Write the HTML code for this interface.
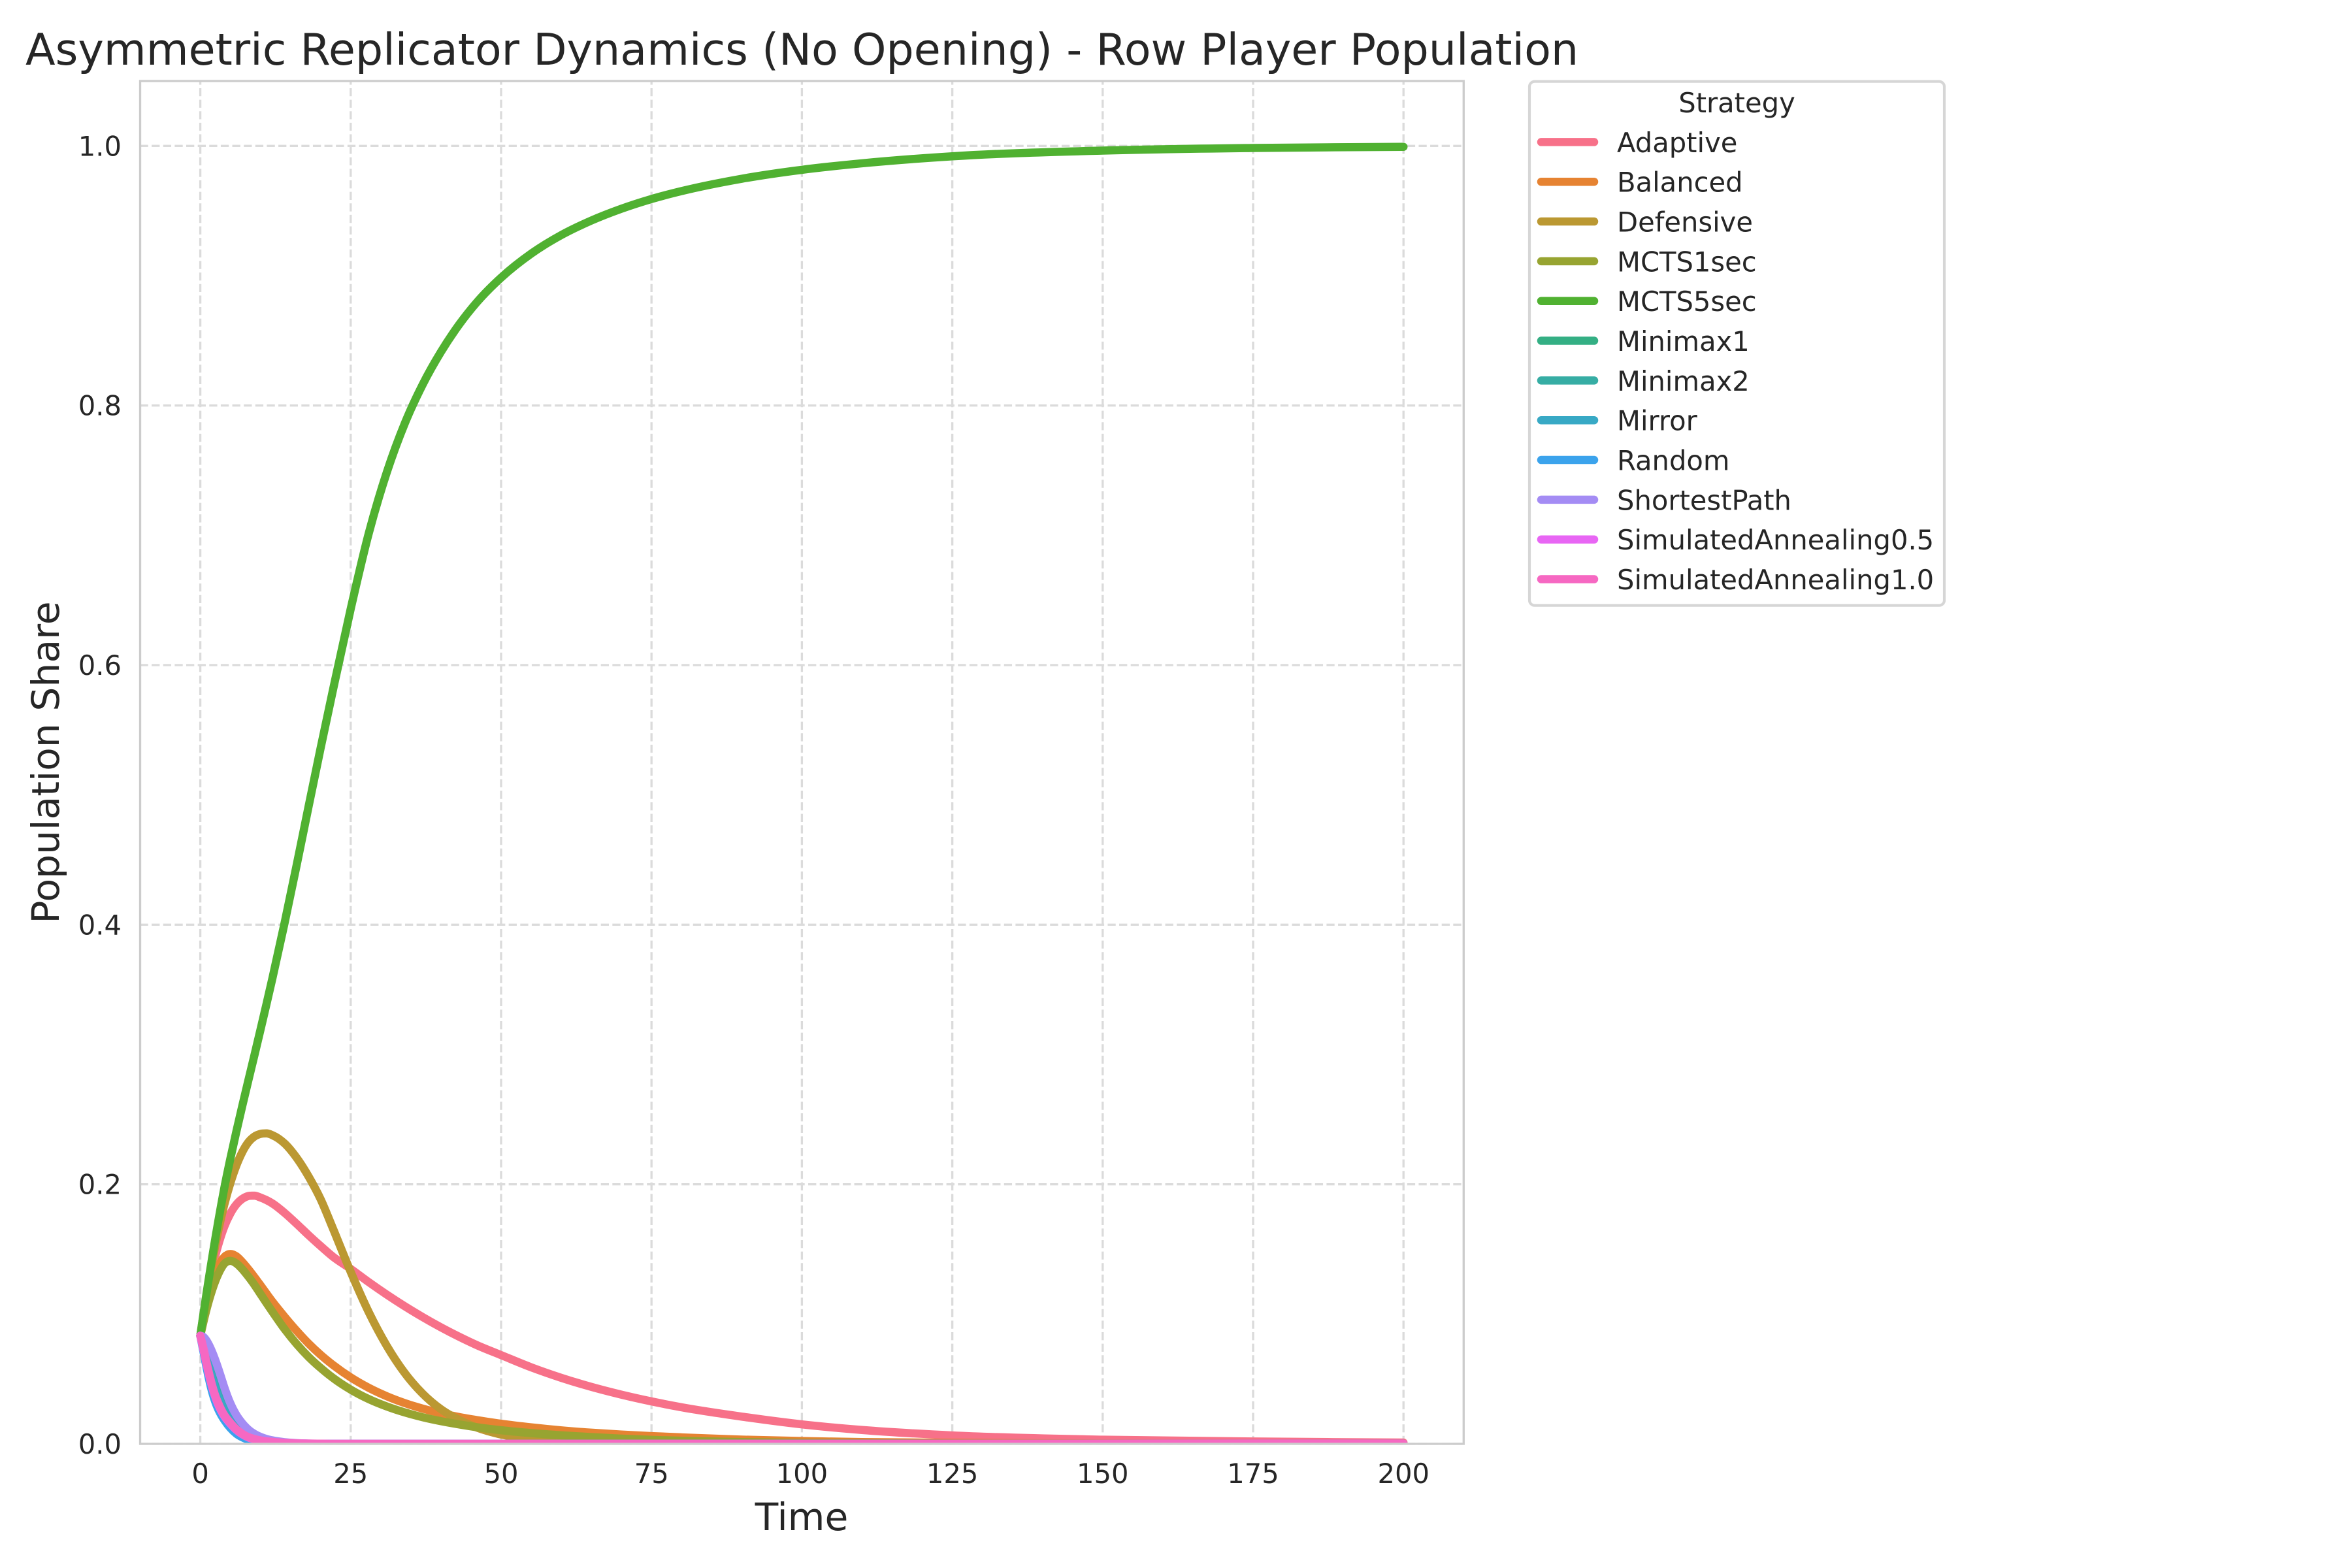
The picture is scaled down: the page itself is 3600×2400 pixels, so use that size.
<!DOCTYPE html>
<html lang="en">
<head>
<meta charset="utf-8">
<title>Asymmetric Replicator Dynamics (No Opening) - Row Player Population</title>
<style>
html,body{margin:0;padding:0;background:#fff;}
body{width:3600px;height:2400px;overflow:hidden;}
svg{display:block;font-family:"DejaVu Sans","Liberation Sans",sans-serif;}
text{fill:#262626;}
</style>
</head>
<body>
<svg id="chart" xmlns="http://www.w3.org/2000/svg" width="3600" height="2400" viewBox="0 0 3600 2400">
  <rect x="0" y="0" width="3600" height="2400" fill="#ffffff"/>
  <defs>
    <clipPath id="axes-clip"><rect x="214.5" y="124" width="2025.8" height="2086"/></clipPath>
  </defs>
  <text x="39" y="99" font-size="66.67">Asymmetric Replicator Dynamics (No Opening) - Row Player Population</text>
  <g id="grid"></g>
  <g id="series" clip-path="url(#axes-clip)"></g>
  <rect x="214.5" y="124" width="2025.8" height="2086" fill="none" stroke="#cccccc" stroke-width="3.33"/>
  <g id="ticks"></g>
  <text x="1227" y="2342" font-size="58.33" text-anchor="middle">Time</text>
  <text transform="translate(90 1167) rotate(-90)" font-size="58.33" text-anchor="middle">Population Share</text>
  <g id="legend">
    <rect x="2341" y="124.7" width="635" height="802" rx="8" ry="8" fill="#ffffff" stroke="#d6d6d6" stroke-width="4.17"/>
    <text x="2658.5" y="172" font-size="41.67" text-anchor="middle">Strategy</text>
  </g>
</svg>
<script>
const timeSteps = [0,0.5,1,1.5,2,2.5,3,3.5,4,5,6,7,8,9,10,11,12,14,16,18,20,22,25,28,31,34,37,40,43,46,50,55,60,65,70,75,80,90,100,110,125,150,175,200];
const strategyNames = ["Adaptive","Balanced","Defensive","MCTS1sec","MCTS5sec","Minimax1","Minimax2","Mirror","Random","ShortestPath","SimulatedAnnealing0.5","SimulatedAnnealing1.0"];
const strategyColors = ["#f77189","#e68332","#bb9832","#97a431","#50b131","#34af84","#36ada4","#38a9c5","#3ba3ec","#a48cf4","#e866f4","#f668c2"];
const adaptive = [.0833,.098,.1115,.124,.135,.145,.1535,.161,.1675,.1775,.1845,.1888,.191,.1912,.1898,.1878,.1852,.178,.1696,.1608,.1524,.1444,.1348,.1246,.115,.106,.0976,.0898,.0826,.076,.0684,.059,.0509,.0439,.0379,.0327,.0282,.021,.015,.0107,.0065,.0032,.0018,.001];
const balanced = [.0833,.0945,.105,.115,.1235,.1305,.1365,.141,.144,.1463,.1445,.14,.1345,.1285,.1222,.1158,.1095,.098,.0872,.0773,.0686,.061,.0512,.0432,.0367,.0314,.0271,.0236,.0207,.0183,.0155,.0127,.0104,.0086,.0072,.006,.005,.0033,.0022,.0014,.0008,.0003,.0001,0];
const defensive = [.0833,.0985,.113,.127,.1405,.153,.1645,.175,.1845,.201,.2145,.225,.2325,.2368,.2388,.2392,.2378,.2315,.2205,.206,.1885,.1665,.1325,.1015,.0755,.0545,.0385,.0267,.0185,.0125,.0072,.0037,.002,.0011,.0006,.0004,.0002,.0001,0,0,0,0,0,0];
const mcts1sec = [.0833,.0935,.103,.1115,.119,.1255,.131,.1355,.1388,.141,.139,.1345,.1288,.1225,.1155,.1085,.1017,.0885,.077,.067,.0585,.051,.0418,.0345,.0288,.0242,.0205,.0175,.015,.0128,.0105,.0083,.0066,.0052,.004,.0031,.0024,.0014,.0008,.0005,.0002,0,0,0];
const mcts5sec = [.0833,.0993,.1148,.1298,.1443,.1583,.1718,.1848,.1973,.2198,.2408,.2608,.2803,.2995,.319,.3388,.359,.4011,.4455,.4911,.5361,.5797,.6433,.7015,.7485,.7863,.8165,.8413,.8622,.8797,.8985,.917,.9313,.9425,.9516,.9591,.9652,.9747,.9816,.9866,.992,.9964,.9984,.9993];
const minimax1 = [.0833,.079,.072,.063,.054,.0458,.039,.0335,.029,.0215,.016,.0114,.008,.0054,.0036,.0024,.0016,.0007,.0003,.0001,0,0,0,0,0,0,0,0,0,0,0,0,0,0,0,0,0,0,0,0,0,0,0,0];
const minimax2 = [.0833,.08,.0735,.0645,.0555,.0472,.0402,.0345,.0298,.0222,.0165,.0118,.0083,.0056,.0037,.0025,.0017,.0007,.0003,.0001,0,0,0,0,0,0,0,0,0,0,0,0,0,0,0,0,0,0,0,0,0,0,0,0];
const mirror = [.0833,.076,.067,.058,.05,.0425,.036,.0305,.026,.019,.0135,.0094,.0064,.0043,.0029,.0019,.0013,.0005,.0002,.0001,0,0,0,0,0,0,0,0,0,0,0,0,0,0,0,0,0,0,0,0,0,0,0,0];
const random = [.0833,.0715,.0598,.0488,.0395,.0322,.0265,.022,.0183,.0122,.0078,.005,.0031,.0019,.0012,.0008,.0005,.0002,0,0,0,0,0,0,0,0,0,0,0,0,0,0,0,0,0,0,0,0,0,0,0,0,0,0];
const shortestPath = [.0833,.0825,.0798,.0757,.0705,.0645,.0578,.0507,.0435,.0312,.0222,.0158,.011,.0077,.0054,.0038,.0027,.0013,.0006,.0002,.0001,0,0,0,0,0,0,0,0,0,0,0,0,0,0,0,0,0,0,0,0,0,0,0];
const simAnneal05 = [.0833,.073,.0622,.0522,.0433,.036,.03,.0252,.0213,.0155,.0107,.0073,.0049,.0035,.0025,.0019,.0014,.0007,.0004,.0002,.0001,0,0,0,0,0,0,0,0,0,0,0,0,0,0,0,0,0,0,0,0,0,0,0];
const simAnneal10 = [.0833,.074,.0635,.0535,.0445,.037,.0312,.0262,.0222,.0162,.0112,.0077,.0052,.0037,.0027,.002,.0015,.0008,.0004,.0002,.0001,0,0,0,0,0,0,0,0,0,0,0,0,0,0,0,0,0,0,0,0,0,0,0];
const seriesValues = [adaptive,balanced,defensive,mcts1sec,mcts5sec,minimax1,minimax2,mirror,random,shortestPath,simAnneal05,simAnneal10];
const xTickValues = [0,25,50,75,100,125,150,175,200];
const yTickValues = [0,0.2,0.4,0.6,0.8,1.0];

const SVG_NS = "http://www.w3.org/2000/svg";
const xScale = function (t) { return 214.5 + (t + 10) / 220 * 2025.8; };
const yScale = function (v) { return 2210 - v / 1.05 * 2086; };

function slopes(xs, ys) {
  const out = [];
  for (let i = 0; i < xs.length; i++) {
    if (i === 0) { out.push((ys[1] - ys[0]) / (xs[1] - xs[0])); continue; }
    if (i === xs.length - 1) { out.push((ys[i] - ys[i - 1]) / (xs[i] - xs[i - 1])); continue; }
    const a = (ys[i] - ys[i - 1]) / (xs[i] - xs[i - 1]);
    const b = (ys[i + 1] - ys[i]) / (xs[i + 1] - xs[i]);
    const ha = xs[i] - xs[i - 1];
    const hb = xs[i + 1] - xs[i];
    out.push(a * b <= 0 ? 0 : (a * hb + b * ha) / (ha + hb));
  }
  return out;
}

function curvePath(values) {
  const xs = timeSteps.map(xScale);
  const ys = values.map(yScale);
  const m = slopes(xs, ys);
  let d = "M" + xs[0].toFixed(2) + " " + ys[0].toFixed(2);
  for (let i = 0; i < xs.length - 1; i++) {
    const h = (xs[i + 1] - xs[i]) / 3;
    d += "C" + (xs[i] + h).toFixed(2) + " " + (ys[i] + m[i] * h).toFixed(2) + " " +
         (xs[i + 1] - h).toFixed(2) + " " + (ys[i + 1] - m[i + 1] * h).toFixed(2) + " " +
         xs[i + 1].toFixed(2) + " " + ys[i + 1].toFixed(2);
  }
  return d;
}

const gridGroup = document.getElementById("grid");
const seriesGroup = document.getElementById("series");
const tickGroup = document.getElementById("ticks");
const legendGroup = document.getElementById("legend");

xTickValues.forEach(function (t) {
  const line = document.createElementNS(SVG_NS, "line");
  line.setAttribute("x1", xScale(t));
  line.setAttribute("x2", xScale(t));
  line.setAttribute("y1", 2210);
  line.setAttribute("y2", 124);
  line.setAttribute("stroke", "#dbdbdb");
  line.setAttribute("stroke-width", "3.33");
  line.setAttribute("stroke-dasharray", "12.3 5.33");
  
  
  gridGroup.appendChild(line);

  const label = document.createElementNS(SVG_NS, "text");
  label.setAttribute("x", xScale(t));
  label.setAttribute("y", 2270);
  label.setAttribute("font-size", "41.67");
  label.setAttribute("text-anchor", "middle");
  label.textContent = String(t);
  
  
  tickGroup.appendChild(label);
});

yTickValues.forEach(function (v) {
  const line = document.createElementNS(SVG_NS, "line");
  line.setAttribute("x1", 214.5);
  line.setAttribute("x2", 2240.3);
  line.setAttribute("y1", yScale(v));
  line.setAttribute("y2", yScale(v));
  line.setAttribute("stroke", "#dbdbdb");
  line.setAttribute("stroke-width", "3.33");
  line.setAttribute("stroke-dasharray", "12.3 5.33");
  
  
  gridGroup.appendChild(line);

  const label = document.createElementNS(SVG_NS, "text");
  label.setAttribute("x", 186);
  label.setAttribute("y", yScale(v) + 15);
  label.setAttribute("font-size", "41.67");
  label.setAttribute("text-anchor", "end");
  label.textContent = v.toFixed(1);
  
  
  tickGroup.appendChild(label);
});

seriesValues.forEach(function (values, i) {
  const path = document.createElementNS(SVG_NS, "path");
  path.setAttribute("d", curvePath(values));
  path.setAttribute("fill", "none");
  path.setAttribute("stroke", strategyColors[i]);
  path.setAttribute("stroke-width", "12.5");
  path.setAttribute("stroke-linecap", "round");
  path.setAttribute("stroke-linejoin", "round");
  
  
  seriesGroup.appendChild(path);

  const rowY = 217.4 + i * 60.83;
  const swatch = document.createElementNS(SVG_NS, "line");
  swatch.setAttribute("x1", 2359);
  swatch.setAttribute("x2", 2440);
  swatch.setAttribute("y1", rowY);
  swatch.setAttribute("y2", rowY);
  swatch.setAttribute("stroke", strategyColors[i]);
  swatch.setAttribute("stroke-width", "12.5");
  swatch.setAttribute("stroke-linecap", "round");
  
  
  legendGroup.appendChild(swatch);

  const entry = document.createElementNS(SVG_NS, "text");
  entry.setAttribute("x", 2475);
  entry.setAttribute("y", rowY + 15.5);
  entry.setAttribute("font-size", "41.67");
  entry.textContent = strategyNames[i];
  
  
  legendGroup.appendChild(entry);
});
</script>
</body>
</html>
